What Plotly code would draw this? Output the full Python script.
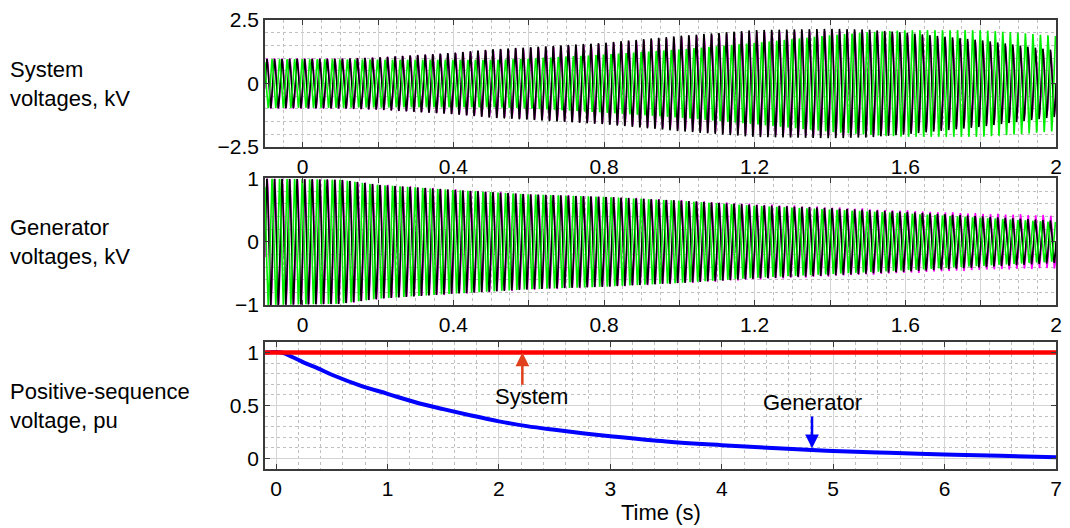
import numpy as np
import plotly.graph_objects as go

FONT = "Liberation Sans, Arial, sans-serif"
FREQ_HZ = 50.0

# Phase angles (deg) of the three traces in each panel
sys_phase_deg = {"magenta": -12.0, "black": 0.0, "green": 120.0}
gen_phase_deg = {"magenta": -14.0, "black": 0.0, "green": 120.0}

# Peak-voltage envelopes (kV) of the three phases, sampled at knot times (s)
sys_knots_t = [-0.1, 0.1, 0.2, 0.4, 0.5, 0.6, 0.8, 1.0, 1.2, 1.4, 1.5, 1.6, 1.8, 1.9, 2.0]
sys_env_black = [0.96, 0.97, 1.02, 1.2, 1.34, 1.42, 1.6, 1.87, 2.1, 2.15, 2.12, 2.0, 1.7, 1.5, 1.3]
sys_env_magenta = [0.96, 0.96, 1.0, 1.17, 1.3, 1.38, 1.55, 1.8, 2.02, 2.06, 2.02, 1.9, 1.6, 1.4, 1.2]
sys_env_green = [0.96, 0.95, 0.94, 0.93, 0.93, 0.98, 1.14, 1.34, 1.6, 1.9, 2.02, 2.1, 2.1, 2.0, 1.87]

gen_knots_t = [-0.1, 0.1, 0.2, 0.4, 0.6, 0.8, 1.0, 1.2, 1.4, 1.6, 1.8, 2.0]
gen_env_black = [1.0, 0.98, 0.9, 0.82, 0.75, 0.71, 0.65, 0.58, 0.53, 0.47, 0.4, 0.33]
gen_env_magenta = [1.0, 0.98, 0.9, 0.82, 0.75, 0.71, 0.65, 0.59, 0.54, 0.49, 0.44, 0.41]
gen_env_green = [1.0, 0.98, 0.9, 0.82, 0.75, 0.71, 0.65, 0.57, 0.51, 0.45, 0.38, 0.31]

# Positive-sequence voltage magnitudes (pu)
pos_t = [-0.1, 0.05, 0.15, 0.25, 0.375, 0.5, 0.75, 1.0, 1.25, 1.5, 1.75, 2.0, 2.25, 2.5, 2.75,
         3.0, 3.5, 4.0, 4.5, 5.0, 5.5, 6.0, 6.5, 7.0]
pos_generator = [1.0, 1.0, 0.955, 0.905, 0.85, 0.79, 0.69, 0.61, 0.53, 0.465, 0.405, 0.35, 0.305,
                 0.27, 0.238, 0.21, 0.16, 0.125, 0.095, 0.07, 0.053, 0.038, 0.024, 0.012]
pos_sys_t = [-0.1, 7.0]
pos_system = [1.0, 1.0]

wave_ticks = [0, 0.2, 0.4, 0.6, 0.8, 1.0, 1.2, 1.4, 1.6, 1.8, 2.0]
wave_tick_text = ["0", "", "0.4", "", "0.8", "", "1.2", "", "1.6", "", "2"]

COLORS = {"black": "#000000", "magenta": "#ff00ff", "green": "#00ee00"}

t = np.arange(-0.1, 2.0 + 1e-9, 1.0 / (FREQ_HZ * 40))


def phase_wave(knots_t, env, phase_deg):
    amp = np.interp(t, knots_t, env)
    return amp * np.sin(2 * np.pi * FREQ_HZ * t + np.deg2rad(phase_deg))


fig = go.Figure()

for name, env in [("magenta", sys_env_magenta), ("black", sys_env_black), ("green", sys_env_green)]:
    fig.add_trace(go.Scatter(x=t, y=phase_wave(sys_knots_t, env, sys_phase_deg[name]),
                             mode="lines", line=dict(color=COLORS[name], width=1.6),
                             xaxis="x", yaxis="y", hoverinfo="skip"))

for name, env in [("magenta", gen_env_magenta), ("black", gen_env_black), ("green", gen_env_green)]:
    fig.add_trace(go.Scatter(x=t, y=phase_wave(gen_knots_t, env, gen_phase_deg[name]),
                             mode="lines", line=dict(color=COLORS[name], width=1.6),
                             xaxis="x2", yaxis="y2", hoverinfo="skip"))

fig.add_trace(go.Scatter(x=pos_t, y=pos_generator, mode="lines",
                         line=dict(color="#0000ff", width=4, shape="spline", smoothing=1.0),
                         xaxis="x3", yaxis="y3"))
fig.add_trace(go.Scatter(x=pos_sys_t, y=pos_system, mode="lines",
                         line=dict(color="#ff0000", width=4.5),
                         xaxis="x3", yaxis="y3"))

AX = dict(showline=True, linecolor="#3a3a3a", linewidth=1.5, mirror="ticks",
          ticks="inside", ticklen=5, tickcolor="#3a3a3a", tickwidth=1.2,
          showgrid=True, gridcolor="#d4d4d4", gridwidth=1.3, zeroline=False,
          tickfont=dict(family=FONT, size=21, color="#000"))


def minor(step):
    return dict(dtick=step, tick0=0, showgrid=True, gridcolor="#c0c0c0", griddash="dot",
                gridwidth=1, ticks="")


dom_top = [0.717, 1.0]
dom_mid = [0.365, 0.647]
dom_bot = [0.0, 0.283]

fig.update_layout(
    width=1070, height=528,
    margin=dict(l=265, r=8, t=17, b=59),
    paper_bgcolor="white", plot_bgcolor="white",
    showlegend=False,
    font=dict(family=FONT, size=21, color="#000"),
    xaxis=dict(AX, domain=[0, 1], anchor="y", range=[-0.1, 2.0],
               tickvals=wave_ticks, ticktext=wave_tick_text, minor=minor(0.05)),
    yaxis=dict(AX, domain=dom_top, anchor="x", range=[-2.5, 2.5],
               tickvals=[-2.5, 0, 2.5], ticktext=["\u22122.5", "0", "2.5"], minor=minor(0.5)),
    xaxis2=dict(AX, domain=[0, 1], anchor="y2", range=[-0.1, 2.0],
                tickvals=wave_ticks, ticktext=wave_tick_text, minor=minor(0.05)),
    yaxis2=dict(AX, domain=dom_mid, anchor="x2", range=[-1, 1],
                tickvals=[-1, 0, 1], ticktext=["\u22121", "0", "1"], minor=minor(0.2)),
    xaxis3=dict(AX, domain=[0, 1], anchor="y3", range=[-0.1, 7.0],
                tickvals=[0, 1, 2, 3, 4, 5, 6, 7], minor=minor(0.2)),
    yaxis3=dict(AX, domain=dom_bot, anchor="x3", range=[-0.1, 1.1],
                tickvals=[0, 0.5, 1], ticktext=["0", "0.5", "1"], minor=minor(0.1)),
)

# Panel labels on the left
PLOT_W = 1070 - 265 - 8
label_x = (6 - 265) / PLOT_W
for text, ymid in [("System<br>voltages, kV", 0.858),
                   ("Generator<br>voltages, kV", 0.506),
                   ("Positive-sequence<br>voltage, pu", 0.141)]:
    fig.add_annotation(text=text, xref="paper", yref="paper", x=label_x, y=ymid,
                       xanchor="left", yanchor="middle", align="left", showarrow=False,
                       font=dict(family=FONT, size=22, color="#000"))

fig.add_annotation(text="Time (s)", xref="paper", yref="paper", x=0.5, y=-0.097,
                   xanchor="center", yanchor="middle", showarrow=False,
                   font=dict(family=FONT, size=22, color="#000"))

# Callouts on the positive-sequence panel (empty, tiny text box so the arrow spans tail to head)
ARROW_FONT = dict(size=1)
fig.add_annotation(x=2.21, y=1.0, ax=2.21, ay=0.69, xref="x3", yref="y3", axref="x3", ayref="y3",
                   showarrow=True, arrowhead=2, arrowsize=1.1, arrowwidth=2.5,
                   arrowcolor="#e0401c", text="", font=ARROW_FONT, borderpad=0)
fig.add_annotation(x=2.29, y=0.58, xref="x3", yref="y3", text="System", showarrow=False,
                   font=dict(family=FONT, size=22, color="#000"))
fig.add_annotation(x=4.81, y=0.095, ax=4.81, ay=0.40, xref="x3", yref="y3", axref="x3", ayref="y3",
                   showarrow=True, arrowhead=2, arrowsize=1.1, arrowwidth=2.5,
                   arrowcolor="#0000ff", text="", font=ARROW_FONT, borderpad=0)
fig.add_annotation(x=4.81, y=0.53, xref="x3", yref="y3", text="Generator", showarrow=False,
                   font=dict(family=FONT, size=22, color="#000"))

fig.write_html("out.html")
